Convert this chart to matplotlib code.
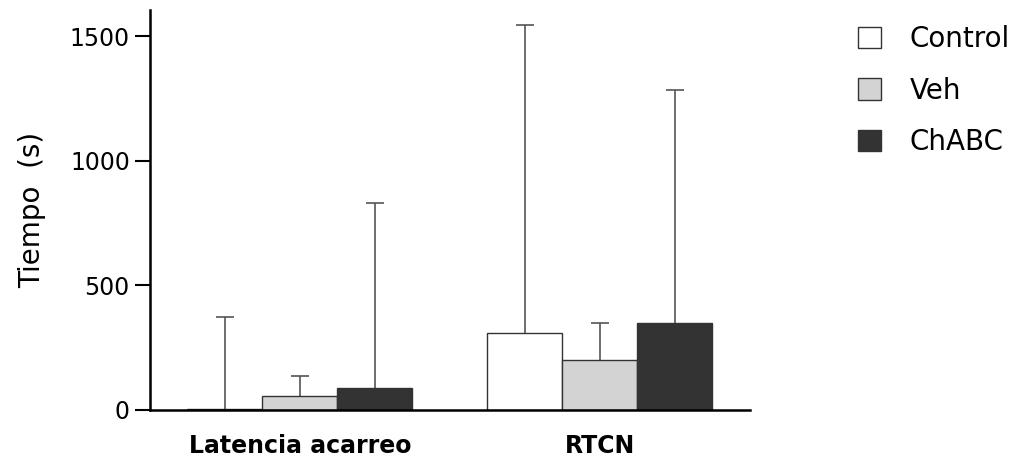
import numpy as np
import matplotlib
matplotlib.use("Agg")
import matplotlib.pyplot as plt

# datos
categorias = ["Latencia acarreo", "RTCN"]
grupos = ["Control", "Veh", "ChABC"]
medias = {
    "Control": [5, 310],
    "Veh": [56, 200],
    "ChABC": [88, 350],
}
errores = {
    "Control": [370, 1234],
    "Veh": [80, 148],
    "ChABC": [742, 934],
}
colores = {"Control": "white", "Veh": "#d3d3d3", "ChABC": "#333333"}

plt.rcParams['font.family'] = ['DejaVu Sans']

fig = plt.figure(figsize=(10.25, 4.63), dpi=100)
ax = fig.add_axes([0.1463, 0.1145, 0.5854, 0.864])

x = np.arange(len(categorias))
ancho = 0.25

for i, g in enumerate(grupos):
    pos = x + (i - 1) * ancho
    base = np.array(medias[g])
    tope = base + np.array(errores[g])
    ax.bar(pos, base, width=ancho, color=colores[g],
           edgecolor='#333333', linewidth=1.0, label=g, zorder=2)
    # solo la mitad superior del error
    ax.vlines(pos, base, tope, color='#555555', linewidth=1.2, zorder=1)
    ax.plot(pos, tope, ls='none', marker='_', markersize=13,
            markeredgewidth=1.2, color='#555555', zorder=1)

ax.set_xlim(-0.5, 1.5)
ax.set_ylim(0, 1605)
ax.set_yticks([0, 500, 1000, 1500])
ax.set_xticks(x)
ax.set_xticklabels(categorias, fontsize=17, fontweight='bold')
ax.tick_params(axis='x', length=0, pad=17)
ax.tick_params(axis='y', labelsize=17, length=11, width=1.5)
ax.set_ylabel("Tiempo  (s)", fontsize=20, labelpad=17)

for s in ['top', 'right']:
    ax.spines[s].set_visible(False)
for s in ['left', 'bottom']:
    ax.spines[s].set_linewidth(1.8)

fig.legend(loc='upper left', bbox_to_anchor=(0.813, 1.0), frameon=False,
           fontsize=20, handlelength=0.8, handleheight=0.8,
           labelspacing=0.85, handletextpad=1.05)

plt.savefig("out.png", dpi=100)
plt.close()
